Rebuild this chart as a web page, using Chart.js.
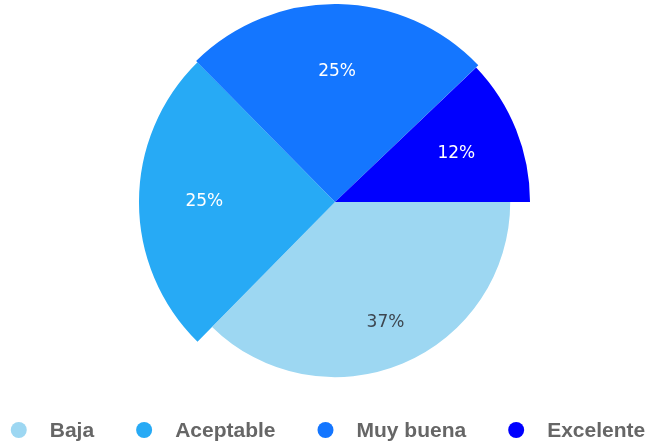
<!DOCTYPE html>
<html lang="es">
<head>
    <meta charset="UTF-8">
    <title>Valoración</title>
    <script src="https://cdn.jsdelivr.net/npm/chart.js@4.4.0/dist/chart.umd.min.js"></script>
    <style>
        html, body { margin: 0; padding: 0; background: #fff; }
        #wrap { width: 656px; height: 447px; }
    </style>
</head>
<body>
    <div id="wrap"><canvas id="pieChart"></canvas></div>

    <script>
        // Data
        const categories = ['Baja', 'Aceptable', 'Muy buena', 'Excelente'];
        const percents = [37, 25, 25, 12];

        // Styling
        const colors = ['#9dd7f2', '#27aaf5', '#1476ff', '#0000ff'];
        const labelColors = ['#3d4650', '#ffffff', '#ffffff', '#ffffff'];
        const radiusScale = [0.885, 0.99, 1.0, 0.985];  // each slice has its own length

        // give every slice its own outer radius
        const sliceRadius = {
            id: 'sliceRadius',
            afterDatasetsUpdate(chart) {
                const area = chart.chartArea;
                const full = Math.min(area.right - area.left, area.bottom - area.top) / 2;
                chart.getDatasetMeta(0).data.forEach((arc, i) => {
                    arc.outerRadius = full * radiusScale[i];
                });
            }
        };

        // percentage text inside the slices
        const sliceLabels = {
            id: 'sliceLabels',
            afterDatasetsDraw(chart) {
                const ctx = chart.ctx;
                const area = chart.chartArea;
                const full = Math.min(area.right - area.left, area.bottom - area.top) / 2;
                ctx.save();
                ctx.font = '17px "DejaVu Sans"';
                ctx.textAlign = 'center';
                ctx.textBaseline = 'middle';
                chart.getDatasetMeta(0).data.forEach((arc, i) => {
                    const mid = (arc.startAngle + arc.endAngle) / 2;
                    const r = full * 0.66;
                    ctx.fillStyle = labelColors[i];
                    ctx.fillText(percents[i] + '%', arc.x + Math.cos(mid) * r, arc.y + Math.sin(mid) * r);
                });
                ctx.restore();
            }
        };

        // legend row along the bottom
        const bottomLegend = {
            id: 'bottomLegend',
            afterDraw(chart) {
                const ctx = chart.ctx;
                const dot = 8, toText = 31, toNext = 50;
                const y = 430;
                ctx.save();
                ctx.font = 'bold 21px "Liberation Sans"';
                ctx.textBaseline = 'middle';
                const widths = categories.map(c => ctx.measureText(c).width);
                let total = dot;
                widths.forEach((w, i) => { total += toText + w + (i < widths.length - 1 ? toNext : 0); });
                let x = chart.width / 2 - total / 2 + dot;
                categories.forEach((c, i) => {
                    ctx.fillStyle = colors[i];
                    ctx.beginPath();
                    ctx.arc(x, y, dot, 0, Math.PI * 2);
                    ctx.fill();
                    ctx.fillStyle = '#666666';
                    ctx.fillText(c, x + toText, y + 1);
                    x += toText + widths[i] + toNext;
                });
                ctx.restore();
            }
        };

        const ctxPie = document.getElementById('pieChart').getContext('2d');
        const pieChart = new Chart(ctxPie, {
            type: 'pie',
            data: {
                labels: categories,
                datasets: [{
                    data: percents,
                    backgroundColor: colors,
                    borderWidth: 0,
                    hoverOffset: 0
                }]
            },
            options: {
                responsive: true,
                maintainAspectRatio: false,
                animation: false,
                rotation: 90,
                layout: {
                    padding: { top: 4, bottom: 47, left: 14, right: 0 }
                },
                plugins: {
                    legend: { display: false },
                    tooltip: { enabled: false }
                }
            },
            plugins: [sliceRadius, sliceLabels, bottomLegend]
        });
    </script>
</body>
</html>
